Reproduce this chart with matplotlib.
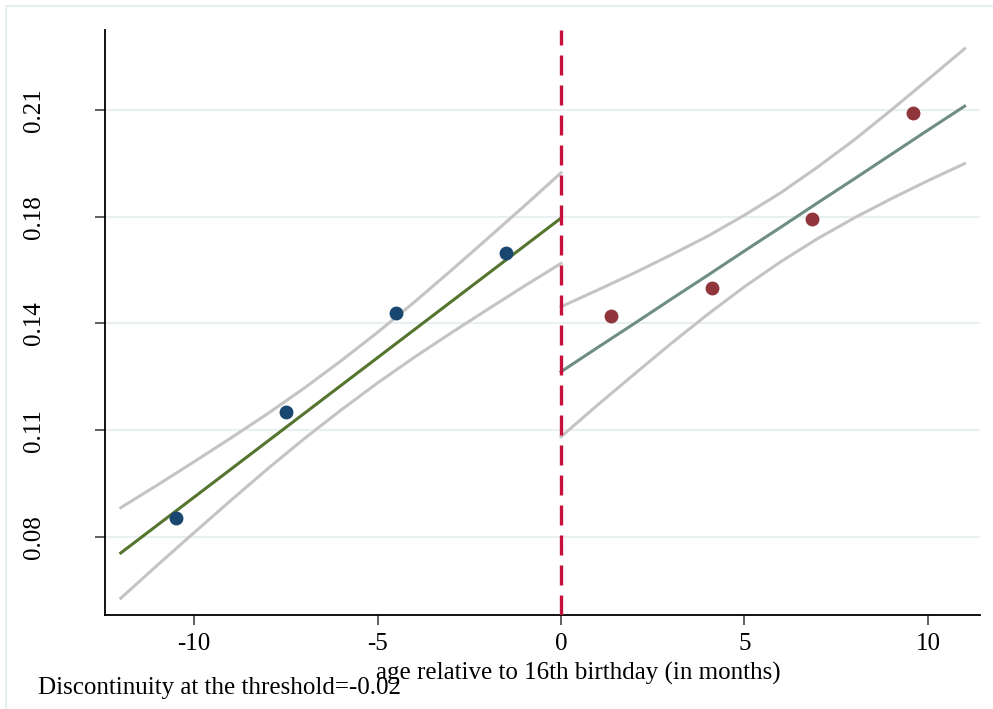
import matplotlib.pyplot as plt
import matplotlib.patches as mpatches

plt.rcParams['font.family'] = ['Liberation Serif', 'DejaVu Serif']

# binned means
left_x = [-10.5, -7.5, -4.5, -1.5]
left_y = [0.0858, 0.1181, 0.1482, 0.1665]
right_x = [1.35, 4.12, 6.85, 9.6]
right_y = [0.1473, 0.1558, 0.1768, 0.2091]

# fitted lines and confidence bands (read at every month)
fit_left_x = [-12, -11, -10, -9, -8, -7, -6, -5, -4, -3, -2, -1, 0]
fit_left = [0.0751, 0.0836, 0.0921, 0.1006, 0.1091, 0.1176, 0.1261,
            0.1346, 0.1431, 0.1516, 0.1601, 0.1686, 0.1771]
ci_left_hi = [0.0889, 0.0958, 0.1029, 0.1101, 0.1175, 0.1253, 0.1336,
              0.1423, 0.1515, 0.1611, 0.1709, 0.1808, 0.1909]
ci_left_lo = [0.0613, 0.0714, 0.0813, 0.0911, 0.1007, 0.1099, 0.1186,
              0.1269, 0.1347, 0.1421, 0.1493, 0.1564, 0.1633]

fit_right_x = [0, 1, 2, 3, 4, 5, 6, 7, 8, 9, 10, 11]
fit_right = [0.1303, 0.1377, 0.1450, 0.1524, 0.1597, 0.1671, 0.1744,
             0.1818, 0.1891, 0.1965, 0.2039, 0.2112]
ci_right_hi = [0.1501, 0.1552, 0.1604, 0.1659, 0.1716, 0.1780, 0.1849,
               0.1927, 0.2010, 0.2100, 0.2193, 0.2287]
ci_right_lo = [0.1105, 0.1202, 0.1296, 0.1389, 0.1478, 0.1562, 0.1639,
               0.1709, 0.1772, 0.1830, 0.1885, 0.1937]

x_ticks = [-10, -5, 0, 5, 10]
y_ticks = [0.08, 0.1125, 0.145, 0.1775, 0.21]
y_tick_labels = ['0.08', '0.11', '0.14', '0.18', '0.21']

threshold = 0
note = 'Discontinuity at the threshold=-0.02'

fig = plt.figure(figsize=(9.93, 7.09), dpi=100)
fig.patches.append(mpatches.Rectangle((6 / 993, -0.1), 1.2, 1 - 6 / 709 + 0.1,
                                      transform=fig.transFigure, fill=False,
                                      edgecolor='#e6eff1', linewidth=1.5))
ax = fig.add_axes([105 / 993, 1 - 615 / 709, (980 - 105) / 993, (615 - 30) / 709])

for yt in y_ticks:
    ax.axhline(yt, color='#e8f0f2', linewidth=1.5, zorder=0)

gray = '#c4c4c4'
ax.plot(fit_left_x, ci_left_hi, color=gray, linewidth=2.2, zorder=1)
ax.plot(fit_left_x, ci_left_lo, color=gray, linewidth=2.2, zorder=1)
ax.plot(fit_right_x, ci_right_hi, color=gray, linewidth=2.2, zorder=1)
ax.plot(fit_right_x, ci_right_lo, color=gray, linewidth=2.2, zorder=1)
ax.plot(fit_left_x, fit_left, color='#55752f', linewidth=2.2, zorder=2)
ax.plot(fit_right_x, fit_right, color='#6e8e84', linewidth=2.2, zorder=2)

ax.scatter(left_x, left_y, s=100, color='#1a476f', zorder=3, linewidths=0)
ax.scatter(right_x, right_y, s=100, color='#90353b', zorder=3, linewidths=0)

ax.axvline(threshold, color='#c8103c', linewidth=2.4, linestyle=(0, (6, 3)), zorder=4)

ax.set_xlim(-12.43, 11.42)
ax.set_ylim(0.0562, 0.2344)
ax.set_xticks(x_ticks)
ax.set_xticklabels([str(v) for v in x_ticks])
ax.set_yticks(y_ticks)
ax.set_yticklabels(y_tick_labels, rotation=90, va='center')

for side in ['top', 'right']:
    ax.spines[side].set_visible(False)
for side in ['left', 'bottom']:
    ax.spines[side].set_linewidth(1.3)
    ax.spines[side].set_color('black')

ax.tick_params(axis='both', direction='out', length=7, width=1.2, color='#444444',
               labelsize=18, pad=6)
ax.tick_params(axis='y', pad=36)

ax.set_xlabel('age relative to 16th birthday (in months)', fontsize=18)
ax.xaxis.set_label_coords((578 - 105) / 875, -0.081)
fig.text(38 / 993, 1 - 688 / 709, note, fontsize=18, va='center', ha='left')

fig.savefig('out.png', dpi=100, facecolor='white')
